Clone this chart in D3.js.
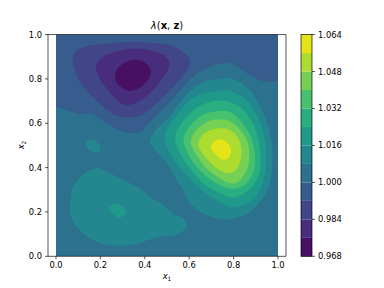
<!DOCTYPE html>
<html>
<head>
  <title>Contour of lambda</title>
  <script src="https://d3js.org/d3.v7.min.js"></script>
  <style>
    body { margin: 0; background: #fff; }
    text { font-family: "DejaVu Sans"; fill: #000; }
  </style>
</head>
<body>
  <svg id="chart" width="384" height="288"></svg>

  <script>
    // Contour levels shown on the colorbar
    const levels = [0.968, 0.976, 0.984, 0.992, 1.0, 1.008, 1.016, 1.024, 1.032, 1.04, 1.048, 1.056, 1.064];
    const axisTicks = [0, 0.2, 0.4, 0.6, 0.8, 1];
    const barTicks = [0.968, 0.984, 1.0, 1.016, 1.032, 1.048, 1.064];

    // Contour outlines, as [x1, x2]
    // Lower edge of the 0.992-1.000 band, runs from the left side to the right side
    const edge1000 = [[0,.672],[.048,.659],[.108,.641],[.167,.641],[.221,.604],[.318,.560],[.378,.561],[.409,.591],[.514,.696],[.617,.809],[.694,.854],[.784,.871],[.859,.826],[.919,.794],[.96,.787],[1,.79]];
    const ring0992 = [[.075,.884],[.086,.922],[.123,.944],[.228,.959],[.333,.967],[.423,.962],[.514,.952],[.572,.922],[.604,.884],[.589,.839],[.536,.772],[.468,.704],[.392,.641],[.333,.627],[.257,.641],[.183,.701],[.108,.785]];
    const ring0984 = [[.179,.851],[.198,.889],[.258,.919],[.348,.937],[.438,.926],[.499,.896],[.510,.859],[.483,.806],[.431,.746],[.364,.694],[.303,.686],[.243,.739],[.198,.799]];
    const ring0976 = [[.266,.814],[.281,.851],[.311,.874],[.356,.886],[.401,.874],[.427,.836],[.416,.799],[.378,.761],[.333,.746],[.296,.761],[.273,.784]];
    const ring1008a = [[.423,.515],[.432,.542],[.468,.591],[.514,.632],[.572,.713],[.662,.785],[.721,.797],[.784,.803],[.874,.749],[.941,.629],[.972,.509],[.974,.420],[.964,.330],[.932,.263],[.874,.201],[.784,.167],[.707,.177],[.635,.209],[.595,.254],[.572,.299],[.536,.357],[.500,.420],[.446,.479]];
    const ring1008b = [[.135,.510],[.149,.524],[.167,.528],[.189,.510],[.201,.488],[.198,.472],[.180,.467],[.153,.479]];
    const ring1008c = [[.063,.239],[.078,.314],[.116,.366],[.183,.398],[.228,.381],[.303,.344],[.378,.306],[.423,.268],[.483,.231],[.528,.191],[.573,.171],[.589,.141],[.573,.115],[.528,.093],[.483,.091],[.423,.077],[.378,.059],[.288,.048],[.198,.059],[.123,.104],[.086,.141],[.066,.186]];
    const ring1016a = [[.491,.524],[.501,.577],[.544,.636],[.596,.696],[.664,.734],[.734,.746],[.784,.746],[.859,.704],[.912,.622],[.941,.524],[.946,.434],[.934,.344],[.896,.261],[.844,.231],[.784,.221],[.739,.246],[.664,.291],[.589,.366],[.528,.441]];
    const ring1016b = [[.236,.216],[.266,.236],[.303,.223],[.318,.201],[.288,.174],[.258,.191]];
    const ring1024 = [[.536,.532],[.551,.577],[.589,.629],[.641,.674],[.716,.700],[.784,.696],[.844,.659],[.896,.577],[.919,.479],[.922,.420],[.904,.344],[.859,.291],[.814,.268],[.784,.266],[.739,.284],[.664,.329],[.604,.396],[.559,.464]];
    const ring1032 = [[.574,.524],[.586,.561],[.619,.606],[.664,.640],[.731,.655],[.784,.651],[.829,.614],[.874,.546],[.896,.464],[.892,.389],[.859,.329],[.814,.306],[.784,.306],[.739,.321],[.671,.366],[.611,.434]];
    const ring1040 = [[.607,.516],[.619,.551],[.656,.591],[.694,.611],[.739,.617],[.784,.609],[.829,.569],[.859,.524],[.871,.464],[.859,.389],[.821,.336],[.784,.329],[.731,.356],[.679,.396],[.634,.456]];
    const ring1048 = [[.641,.501],[.656,.542],[.694,.569],[.739,.577],[.784,.569],[.821,.532],[.836,.471],[.821,.404],[.784,.374],[.724,.396],[.679,.441]];
    const ring1056 = [[.698,.491],[.709,.516],[.736,.528],[.769,.516],[.788,.482],[.781,.449],[.754,.434],[.724,.456]];

    const width = 384;
    const height = 288;
    const axLeft = 48, axRight = 286, axTop = 34.56, axBottom = 256.32;

    const svg = d3.select('#chart');
    const x = d3.scaleLinear().domain([0, 1]).range([56, 278]);
    const y = d3.scaleLinear().domain([0, 1]).range([axBottom, axTop]);
    const barY = d3.scaleLinear().domain([levels[0], levels[levels.length - 1]]).range([axBottom, axTop]);

    // matplotlib takes the colour of a filled band from its midpoint
    const bandColor = i => d3.interpolateViridis((i + 0.5) / (levels.length - 1));

    const ringLine = d3.line().x(d => x(d[0])).y(d => y(d[1])).curve(d3.curveCatmullRomClosed.alpha(0.5));
    const edgeLine = d3.line().x(d => x(d[0])).y(d => y(d[1])).curve(d3.curveCatmullRom.alpha(0.5));

    svg.append('clipPath').attr('id', 'plot-clip').append('rect')
      .attr('x', x(0)).attr('y', y(1))
      .attr('width', x(1) - x(0)).attr('height', y(0) - y(1));

    const plot = svg.append('g').attr('clip-path', 'url(#plot-clip)');

    // Base band 1.000-1.008 fills the square
    plot.append('rect')
      .attr('x', x(0)).attr('y', y(1))
      .attr('width', x(1) - x(0)).attr('height', y(0) - y(1))
      .attr('fill', bandColor(4));

    // Band 0.992-1.000 is closed along the top of the square
    plot.append('path')
      .attr('d', edgeLine(edge1000) + `L${x(1)},${y(1)}L${x(0)},${y(1)}Z`)
      .attr('fill', bandColor(3));

    // Nested outlines, painted from the outside in
    const rings = [
      [2, ring0992], [1, ring0984], [0, ring0976],
      [5, ring1008a], [5, ring1008b], [5, ring1008c],
      [6, ring1016a], [6, ring1016b],
      [7, ring1024], [8, ring1032], [9, ring1040], [10, ring1048], [11, ring1056]
    ];

    plot.selectAll('.ring')
      .data(rings)
      .enter()
      .append('path')
      .attr('class', 'ring')
      .attr('d', d => ringLine(d[1]))
      .attr('fill', d => bandColor(d[0]));

    // Frame of the axes
    const frame = [
      [axLeft, axTop, axRight, axTop],
      [axLeft, axBottom, axRight, axBottom],
      [axLeft, axTop, axLeft, axBottom],
      [axRight, axTop, axRight, axBottom]
    ];
    svg.selectAll('.spine')
      .data(frame)
      .enter()
      .append('line')
      .attr('class', 'spine')
      .attr('x1', d => d[0]).attr('y1', d => d[1])
      .attr('x2', d => d[2]).attr('y2', d => d[3])
      .attr('stroke', '#000').attr('stroke-width', 0.67);

    // x ticks
    svg.selectAll('.x-tick')
      .data(axisTicks)
      .enter()
      .append('line')
      .attr('class', 'x-tick')
      .attr('x1', d => x(d)).attr('x2', d => x(d))
      .attr('y1', axBottom).attr('y2', axBottom + 2.9)
      .attr('stroke', '#000').attr('stroke-width', 0.67);

    svg.selectAll('.x-label')
      .data(axisTicks)
      .enter()
      .append('text')
      .attr('class', 'x-label')
      .attr('x', d => x(d)).attr('y', 268)
      .attr('text-anchor', 'middle')
      .attr('font-size', 8.33)
      .text(d => d.toFixed(1));

    // y ticks
    svg.selectAll('.y-tick')
      .data(axisTicks)
      .enter()
      .append('line')
      .attr('class', 'y-tick')
      .attr('x1', axLeft - 2.9).attr('x2', axLeft)
      .attr('y1', d => y(d)).attr('y2', d => y(d))
      .attr('stroke', '#000').attr('stroke-width', 0.67);

    svg.selectAll('.y-label')
      .data(axisTicks)
      .enter()
      .append('text')
      .attr('class', 'y-label')
      .attr('x', axLeft - 6).attr('y', d => y(d) + 3)
      .attr('text-anchor', 'end')
      .attr('font-size', 8.33)
      .text(d => d.toFixed(1));

    // Axis titles
    const xTitle = svg.append('text').attr('x', 167).attr('y', 279).attr('text-anchor', 'middle').attr('font-size', 8.33);
    xTitle.append('tspan').attr('font-style', 'italic').text('x');
    xTitle.append('tspan').attr('dy', 1.5).attr('font-size', 5.8).text('1');

    const yTitle = svg.append('text').attr('transform', 'translate(24,145) rotate(-90)').attr('text-anchor', 'middle').attr('font-size', 8.33);
    yTitle.append('tspan').attr('font-style', 'italic').text('x');
    yTitle.append('tspan').attr('dy', 1.5).attr('font-size', 5.8).text('2');

    // Title
    const title = svg.append('text').attr('x', 167).attr('y', 29).attr('text-anchor', 'middle').attr('font-size', 10);
    title.append('tspan').attr('font-style', 'italic').text('λ');
    title.append('tspan').text('(');
    title.append('tspan').attr('font-weight', 'bold').text('x');
    title.append('tspan').text(', ');
    title.append('tspan').attr('font-weight', 'bold').text('z');
    title.append('tspan').text(')');

    // Colorbar
    const barLeft = 301, barRight = 312;
    svg.selectAll('.bar-band')
      .data(d3.range(levels.length - 1))
      .enter()
      .append('rect')
      .attr('class', 'bar-band')
      .attr('x', barLeft)
      .attr('y', i => barY(levels[i + 1]))
      .attr('width', barRight - barLeft)
      .attr('height', i => barY(levels[i]) - barY(levels[i + 1]))
      .attr('fill', i => bandColor(i));

    svg.append('rect')
      .attr('x', barLeft).attr('y', axTop)
      .attr('width', barRight - barLeft).attr('height', axBottom - axTop)
      .attr('fill', 'none').attr('stroke', '#000').attr('stroke-width', 0.67);

    svg.selectAll('.bar-tick')
      .data(barTicks)
      .enter()
      .append('line')
      .attr('class', 'bar-tick')
      .attr('x1', barRight).attr('x2', barRight + 2.9)
      .attr('y1', d => barY(d)).attr('y2', d => barY(d))
      .attr('stroke', '#000').attr('stroke-width', 0.67);

    svg.selectAll('.bar-label')
      .data(barTicks)
      .enter()
      .append('text')
      .attr('class', 'bar-label')
      .attr('x', barRight + 6).attr('y', d => barY(d) + 3)
      .attr('font-size', 8.33)
      .text(d => d.toFixed(3));
  </script>
</body>
</html>
